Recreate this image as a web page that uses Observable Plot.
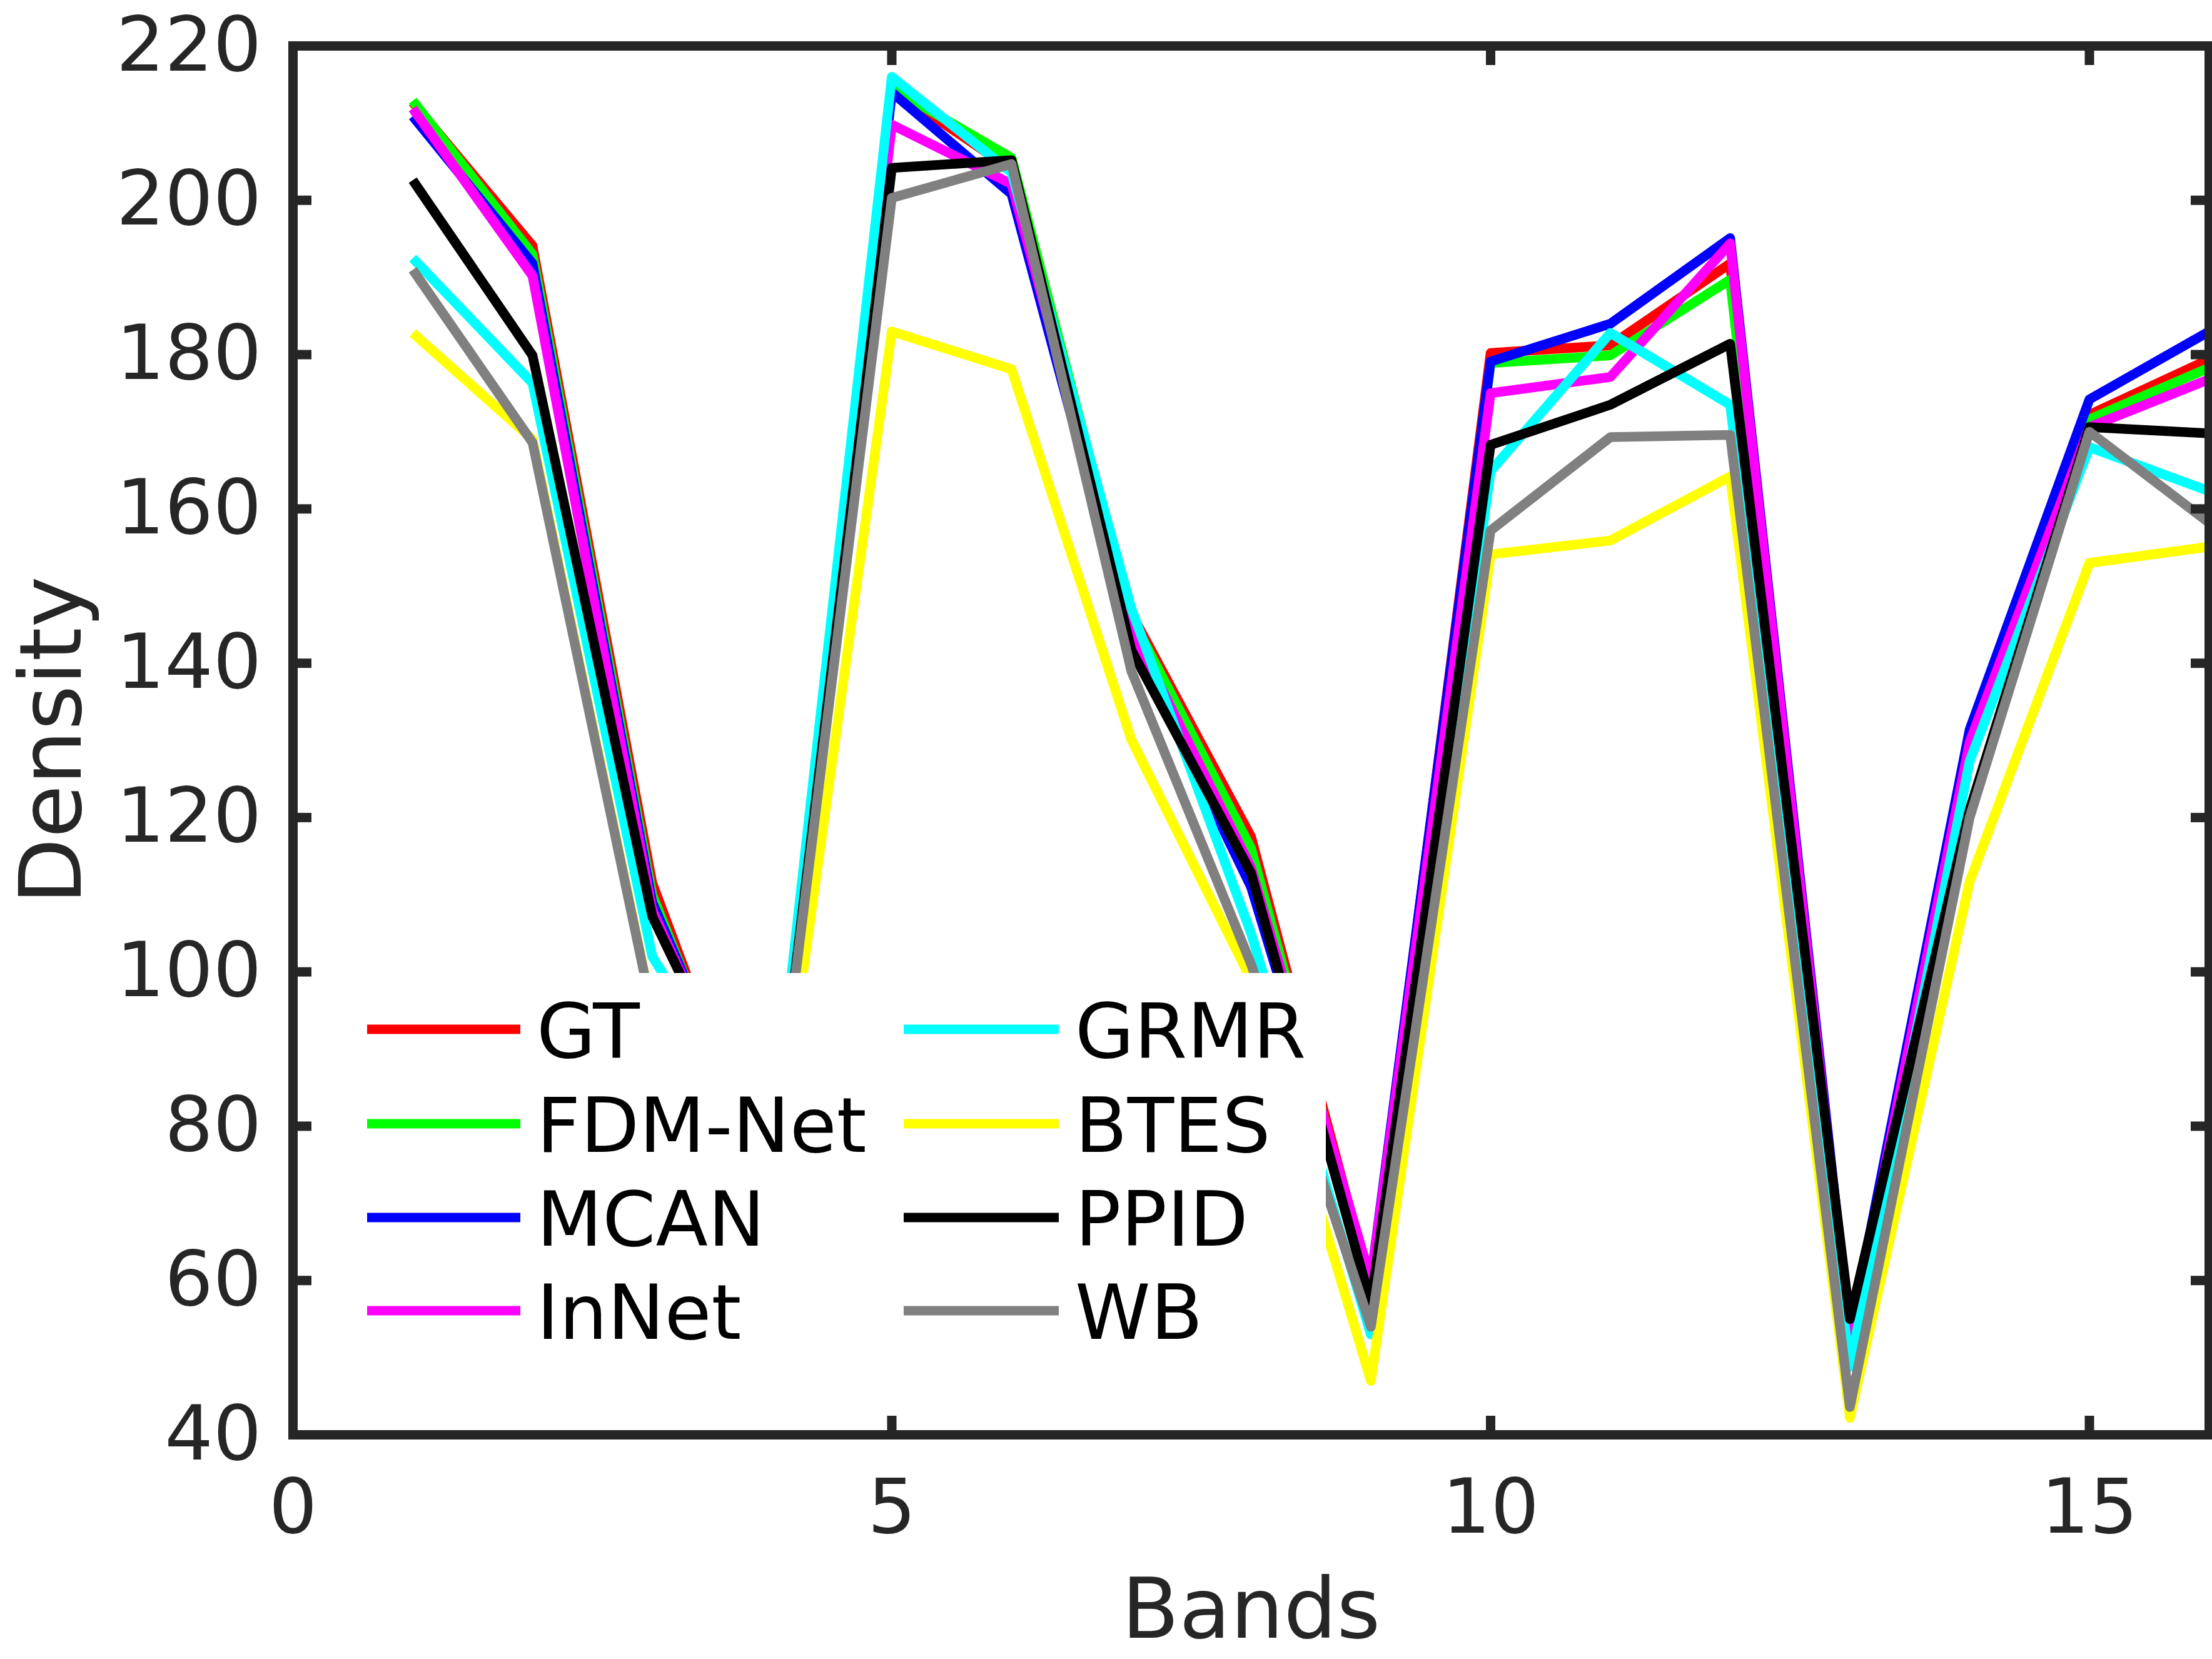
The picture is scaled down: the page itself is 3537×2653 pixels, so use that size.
<!DOCTYPE html>
<html>
<head>
<meta charset="utf-8">
<script src="https://cdn.jsdelivr.net/npm/d3@7"></script>
<script src="https://cdn.jsdelivr.net/npm/@observablehq/plot@0.6"></script>
<style>
  html, body { margin: 0; padding: 0; background: #fff; overflow: hidden; }
  #wrap { position: relative; width: 3537px; height: 2653px; }
  #legend { position: absolute; left: 0; top: 0; }
</style>
</head>
<body>
<div id="wrap"></div>
<script>
const bands = [1, 2, 3, 4, 5, 6, 7, 8, 9, 10, 11, 12, 13, 14, 15, 16];
const methods = ["GT", "FDM-Net", "MCAN", "InNet", "GRMR", "BTES", "PPID", "WB"];
const colors = ["#ff0000", "#00ff00", "#0000ff", "#ff00ff", "#00ffff", "#ffff00", "#000000", "#808080"];

const GT      = [212.7, 194.1, 111.5, 70, 214.5, 204.0, 146.5, 117.5, 59.0, 180.2, 181.2, 191.8, 52.0, 130.0, 172.2, 179.4];
const FDMNet  = [212.9, 193.0, 110.0, 71, 214.5, 205.5, 146.0, 116.0, 58.5, 178.9, 179.9, 189.7, 52.0, 129.5, 171.6, 178.3];
const MCAN    = [210.9, 191.8, 109.0, 73, 214.0, 200.8, 143.0, 111.0, 60.0, 179.1, 184.0, 195.1, 53.0, 131.4, 174.2, 183.0];
const InNet   = [211.9, 190.2, 108.0, 74, 209.8, 202.1, 144.5, 113.5, 60.0, 175.0, 177.1, 194.4, 51.9, 129.8, 170.6, 176.8];
const GRMR    = [192.5, 176.3, 102.0, 77, 216.0, 203.6, 147.1, 105.0, 53.0, 164.9, 182.8, 173.5, 48.8, 127.3, 168.0, 162.3];
const BTES    = [182.8, 169.0, 95.0, 71, 183.0, 178.1, 130.1, 99.0, 47.0, 154.1, 155.9, 164.2, 42.2, 111.7, 153.0, 155.1];
const PPID    = [202.6, 179.9, 107.2, 75, 204.2, 205.2, 141.7, 112.8, 57.0, 168.3, 173.5, 181.4, 55.0, 121.0, 170.6, 169.8];
const WB      = [191.0, 168.6, 94.8, 75, 200.3, 204.7, 139.0, 101.0, 54.0, 157.2, 169.3, 169.6, 43.6, 120.0, 170.0, 158.2];
const series = [GT, FDMNet, MCAN, InNet, GRMR, BTES, PPID, WB];

const xTicks = [0, 5, 10, 15];
const yTicks = [40, 60, 80, 100, 120, 140, 160, 180, 200, 220];
const xLabel = "Bands";
const yLabel = "Density";

const rows = [];
methods.forEach((m, i) => bands.forEach((b, j) => rows.push({method: m, band: b, value: series[i][j]})));

const W = 3537, H = 2653;
const mL = 468, mR = 5, mT = 73, mB = 359;
const axisColor = "#262626";
const tickLen = 30, axW = 15;
const fmt = d => String(d);

const chart = Plot.plot({
  width: W,
  height: H,
  marginLeft: mL,
  marginRight: mR,
  marginTop: mT,
  marginBottom: mB,
  style: {fontFamily: "DejaVu Sans", color: axisColor, background: "#fff", overflow: "visible", display: "block"},
  x: {domain: [0, 16]},
  y: {domain: [40, 220]},
  color: {domain: methods, range: colors},
  marks: [
    Plot.line(rows, {x: "band", y: "value", z: "method", stroke: "method", strokeWidth: 15.5, strokeLinejoin: "round", strokeLinecap: "butt", clip: true}),
    Plot.frame({stroke: axisColor, strokeWidth: axW}),
    Plot.axisY(yTicks, {anchor: "left", tickSize: tickLen, dx: tickLen, strokeWidth: axW, tickFormat: () => "", label: null}),
    Plot.axisY(yTicks, {anchor: "right", tickSize: tickLen, dx: -tickLen, strokeWidth: axW, tickFormat: () => "", label: null}),
    Plot.axisX(xTicks, {anchor: "bottom", tickSize: tickLen, dy: -tickLen, strokeWidth: axW, tickFormat: () => "", label: null}),
    Plot.axisX(xTicks, {anchor: "top", tickSize: tickLen, dy: tickLen, strokeWidth: axW, tickFormat: () => "", label: null}),
    Plot.axisY(yTicks, {anchor: "left", tickSize: 0, tickPadding: 50, fontSize: 122, tickFormat: fmt, label: null}),
    Plot.axisX(xTicks, {anchor: "bottom", tickSize: 0, tickPadding: 70, fontSize: 122, tickFormat: fmt, label: null}),
    Plot.text([yLabel], {text: d => d, frameAnchor: "left", dx: -384, rotate: -90, textAnchor: "middle", lineAnchor: "middle", fontSize: 138, fill: axisColor}),
    Plot.text([xLabel], {text: d => d, frameAnchor: "bottom", dy: 282, textAnchor: "middle", lineAnchor: "middle", fontSize: 134, fill: axisColor})
  ]
});

const wrap = document.getElementById("wrap");
wrap.appendChild(chart);

// Legend overlay (white box, two columns, no border)
const ns = "http://www.w3.org/2000/svg";
const leg = document.createElementNS(ns, "svg");
leg.setAttribute("id", "legend");
leg.setAttribute("width", W);
leg.setAttribute("height", H);
const box = document.createElementNS(ns, "rect");
box.setAttribute("x", 541); box.setAttribute("y", 1556);
box.setAttribute("width", 2120 - 541); box.setAttribute("height", 2180 - 1556);
box.setAttribute("fill", "#fff");
leg.appendChild(box);
const rowY = [1646, 1797, 1947, 2096];
const cols = [{x1: 587, x2: 832, tx: 858}, {x1: 1445, x2: 1693, tx: 1719}];
methods.forEach((m, i) => {
  const c = cols[Math.floor(i / 4)];
  const y = rowY[i % 4];
  const ln = document.createElementNS(ns, "line");
  ln.setAttribute("x1", c.x1); ln.setAttribute("x2", c.x2);
  ln.setAttribute("y1", y); ln.setAttribute("y2", y);
  ln.setAttribute("stroke", colors[i]); ln.setAttribute("stroke-width", 15);
  leg.appendChild(ln);
  const t = document.createElementNS(ns, "text");
  t.setAttribute("x", c.tx); t.setAttribute("y", y + 44.5);
  t.setAttribute("font-family", "DejaVu Sans");
  t.setAttribute("font-size", 122);
  t.setAttribute("fill", "#000");
  t.textContent = m;
  leg.appendChild(t);
});
wrap.appendChild(leg);
</script>
</body>
</html>
